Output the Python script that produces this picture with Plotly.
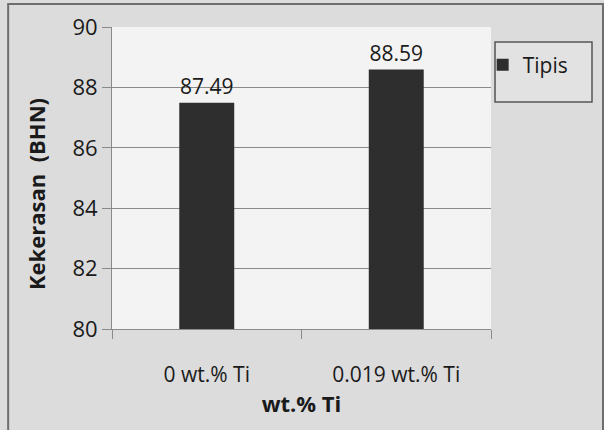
import plotly.graph_objects as go

categories = ["0 wt.% Ti", "0.019 wt.% Ti"]
values = [87.49, 88.59]
series_name = "Tipis"
y_ticks = [80, 82, 84, 86, 88, 90]

FONT = "Open Sans, sans-serif"

fig = go.Figure()
fig.add_trace(go.Bar(
    x=categories, y=values, name=series_name,
    marker=dict(color="#2e2e2e", line=dict(width=0)),
    text=[f"{v:.2f}" for v in values], textposition="outside",
    textfont=dict(size=21, color="#1a1a1a", family=FONT),
    cliponaxis=False, showlegend=True,
))

fig.update_layout(
    width=604, height=430,
    margin=dict(l=112, r=113, t=27, b=101),
    paper_bgcolor="#dcdcdc", plot_bgcolor="#f3f3f3",
    bargap=0.71,
    font=dict(family=FONT, color="#1a1a1a"),
    showlegend=True,
    legend=dict(x=0.978, y=0.874, xanchor="left", yanchor="middle",
                bgcolor="rgba(0,0,0,0)", borderwidth=0,
                font=dict(size=21, family=FONT), itemsizing="constant",
                itemwidth=30),
    shapes=[
        dict(type="rect", xref="paper", yref="paper",
             x0=-0.274, x1=1.2955, y0=-0.34, y1=1.076,
             line=dict(color="#6e6e6e", width=2), layer="below"),
        dict(type="rect", xref="paper", yref="paper",
             x0=1.0106, x1=1.2665, y0=0.7517, y1=0.9503,
             fillcolor="#e2e2e2",
             line=dict(color="#555555", width=1.5), layer="below"),
    ],
    annotations=[
        dict(text="<b>Kekerasan  (BHN)</b>", xref="paper", yref="paper",
             x=(36 - 112) / 379, y=(329 - 194) / 302, textangle=-90,
             showarrow=False, xanchor="center", yanchor="middle",
             font=dict(size=22, family=FONT, color="#1a1a1a")),
    ],
)
fig.update_yaxes(range=[80, 90], tickvals=y_ticks, showgrid=True,
                 gridcolor="#8a8a8a", gridwidth=1,
                 ticks="outside", ticklen=9, tickcolor="#8a8a8a",
                 showline=True, linecolor="#8a8a8a", linewidth=1,
                 tickfont=dict(size=22, family=FONT),
                 zeroline=False)
fig.update_xaxes(showline=True, linecolor="#8a8a8a", linewidth=1,
                 ticks="outside", ticklen=9, tickcolor="#8a8a8a",
                 tickson="boundaries", ticklabelstandoff=27,
                 tickfont=dict(size=21, family=FONT),
                 title=dict(text="<b>wt.% Ti</b>", font=dict(size=22, family=FONT), standoff=9))

fig.write_html("out.html")
